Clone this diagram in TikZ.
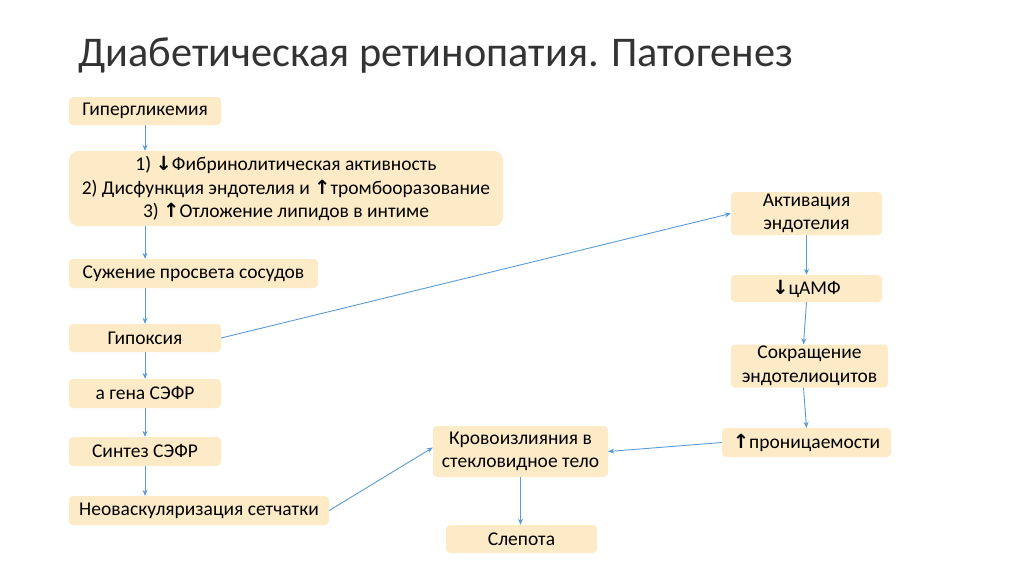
\documentclass[tikz,border=0pt]{standalone}
\usepackage{fontspec}
\setmainfont{Carlito}
\newfontfamily\arrfont{DejaVu Sans}
\usetikzlibrary{arrows.meta}
\newcommand{\dn}{{\arrfont\bfseries ↓}}
\newcommand{\up}{{\arrfont\bfseries ↑}}
\definecolor{boxfill}{HTML}{FDEBC8}
\definecolor{arrblue}{HTML}{5B9BD5}
\tikzset{
  box/.style={fill=boxfill, rounded corners=4pt, inner sep=0pt, align=center, font=\fontsize{19.5}{23.5}\selectfont},
  conn/.style={draw=arrblue, line width=0.9pt, -{Stealth[length=6pt,width=5pt]}},
}
\begin{document}
\begin{tikzpicture}[x=1pt,y=-1pt]
\useasboundingbox (0,0) rectangle (1024,574);
\fill[white] (0,0) rectangle (1024,574);
\node[anchor=west, font=\fontsize{42.3}{48}\selectfont, text=black!80] (title) at (75,56) {Диабетическая ретинопатия. Патогенез};
% left column
\node[box, minimum width=152pt, minimum height=28pt] (hyp) at (145,111) {Гипергликемия};
\node[box, rounded corners=9pt, minimum width=434pt, minimum height=75pt] (big) at (286,188.5)
  {1) \dn Фибринолитическая активность\\ 2) Дисфункция эндотелия и \up тромбооразование\\ 3) \up Отложение липидов в интиме};
\node[box, minimum width=249pt, minimum height=29pt] (narrow) at (193.5,273.5) {Сужение просвета сосудов};
\node[box, minimum width=152pt, minimum height=28pt] (hypox) at (145,338) {Гипоксия};
\node[box, minimum width=152pt, minimum height=29pt] (gene) at (145,393.5) {а гена СЭФР};
\node[box, minimum width=152pt, minimum height=29pt] (synth) at (145,451.5) {Синтез СЭФР};
\node[box, minimum width=260pt, minimum height=29pt] (neo) at (199,510.5) {Неоваскуляризация сетчатки};
% middle
\node[box, minimum width=175pt, minimum height=51pt] (blood) at (520.5,451.5) {Кровоизлияния в\\ стекловидное тело};
\node[box, minimum width=151pt, minimum height=28pt] (blind) at (521.5,539) {Слепота};
% right column
\node[box, minimum width=151pt, minimum height=43pt] (act) at (806.5,213.5) {Активация\\ эндотелия};
\node[box, minimum width=151pt, minimum height=27pt] (camp) at (806.5,288.5) {\dn цАМФ};
\node[box, minimum width=157pt, minimum height=43pt] (contr) at (809.5,366) {Сокращение\\ эндотелиоцитов};
\node[box, minimum width=169pt, minimum height=29pt] (perm) at (806.5,442.5) {\up проницаемости};
% connectors
\draw[conn] (hyp.south) -- (big.north -| hyp.south);
\draw[conn] (big.south -| hyp.south) -- (narrow.north -| hyp.south);
\draw[conn] (narrow.south -| hyp.south) -- (hypox.north);
\draw[conn] (hypox.south) -- (gene.north);
\draw[conn] (gene.south) -- (synth.north);
\draw[conn] (synth.south) -- (neo.north -| synth.south);
\draw[conn] (hypox.east) -- (act.west);
\draw[conn] (neo.east) -- ([yshift=4pt]blood.west);
\draw[conn] (perm.west) -- (blood.east);
\draw[conn] (blood.south) -- (blind.north -| blood.south);
\draw[conn] (act.south) -- (camp.north);
\draw[conn] (camp.south) -- ([xshift=-6pt]contr.north);
\draw[conn] ([xshift=-6pt]contr.south) -- (perm.north);
\end{tikzpicture}
\end{document}
